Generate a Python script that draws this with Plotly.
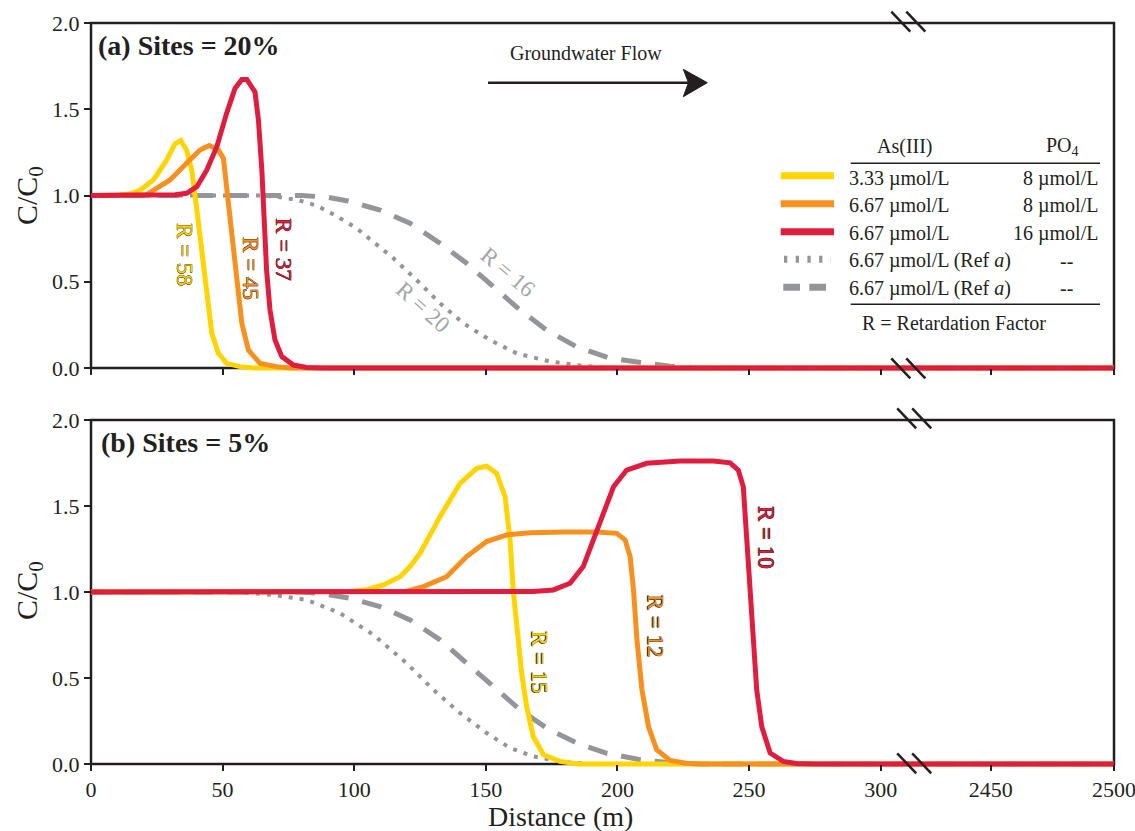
import plotly.graph_objects as go

# ---------------- data ----------------
# Panel (a): Sites = 20 %
a_yellow_x = [0, 10, 15, 18.6, 23.7, 28.8, 31.9, 34.1, 36.3, 38.3, 39.9, 41.4, 42.9, 44.2, 45.9, 48.4, 51.5, 56.6, 62, 320]
a_yellow_y = [1.0, 1.0, 1.01, 1.03, 1.09, 1.206, 1.30, 1.318, 1.264, 1.148, 0.955, 0.761, 0.568, 0.375, 0.201, 0.085, 0.027, 0.008, 0.0, 0.0]

a_orange_x = [0, 15, 21, 23.7, 30, 36.3, 41.4, 44.9, 48.4, 50.3, 51.5, 52.8, 54.3, 55.6, 57.3, 59.8, 64.2, 70.5, 76, 320]
a_orange_y = [1.0, 1.0, 1.005, 1.03, 1.09, 1.187, 1.264, 1.29, 1.264, 1.215, 1.05, 0.858, 0.665, 0.471, 0.259, 0.104, 0.027, 0.008, 0.0, 0.0]

a_red_x = [0, 25, 32, 36.3, 40.2, 44.0, 47.8, 51.5, 54.7, 57.3, 59.2, 62.3, 63.6, 64.9, 65.7, 66.7, 68.0, 69.9, 72.5, 76.9, 82, 88, 320]
a_red_y = [1.0, 1.0, 1.005, 1.013, 1.051, 1.148, 1.283, 1.476, 1.62, 1.673, 1.673, 1.60, 1.438, 1.148, 0.858, 0.568, 0.336, 0.162, 0.066, 0.017, 0.003, 0.0, 0.0]

a_dot_x = [0, 65, 72, 79, 86, 93.3, 100.9, 108.5, 114.9, 123.7, 132.6, 141.5, 151.6, 161.7, 174.4, 187, 200, 320]
a_dot_y = [1.0, 1.0, 0.99, 0.972, 0.94, 0.88, 0.81, 0.713, 0.636, 0.51, 0.375, 0.259, 0.162, 0.085, 0.037, 0.012, 0.0, 0.0]

a_dash_x = [0, 80, 90, 97.1, 109.8, 121.2, 132.6, 142.7, 152.9, 163, 173.1, 184.5, 197.2, 209.8, 220, 232, 320]
a_dash_y = [1.0, 1.0, 0.99, 0.97, 0.916, 0.839, 0.723, 0.607, 0.471, 0.336, 0.22, 0.123, 0.056, 0.027, 0.01, 0.0, 0.0]

# Panel (b): Sites = 5 %
b_yellow_x = [0, 90, 98.4, 105, 111.1, 117.4, 121.2, 125, 132.6, 140.2, 146.5, 150.3, 154.1, 157.3, 159.2, 160.4, 161.7, 163.6, 165.5, 168, 171.9, 178.2, 185, 320]
b_yellow_y = [1.0, 1.0, 1.003, 1.015, 1.041, 1.089, 1.148, 1.225, 1.438, 1.632, 1.719, 1.732, 1.69, 1.554, 1.303, 1.012, 0.819, 0.528, 0.334, 0.16, 0.054, 0.015, 0.0, 0.0]

b_orange_x = [0, 110, 120, 126.3, 135.1, 142.7, 150.3, 157.9, 166.8, 179.5, 192.1, 199.7, 202.9, 204.8, 206.1, 207.4, 209.3, 211.8, 214.9, 220, 226, 232, 320]
b_orange_y = [1.0, 1.0, 1.005, 1.031, 1.089, 1.206, 1.293, 1.332, 1.345, 1.349, 1.349, 1.341, 1.303, 1.206, 1.012, 0.722, 0.431, 0.218, 0.083, 0.021, 0.005, 0.0, 0.0]

b_red_x = [0, 160, 168, 175.6, 182, 187, 190.8, 194.6, 198.5, 203.5, 211.1, 223.8, 236.4, 242.8, 245.9, 247.8, 249.1, 250.4, 251.6, 252.9, 254.8, 258, 263, 268, 275, 320]
b_red_y = [1.0, 1.0, 1.003, 1.012, 1.051, 1.148, 1.303, 1.458, 1.612, 1.709, 1.748, 1.761, 1.761, 1.751, 1.709, 1.612, 1.303, 1.012, 0.722, 0.431, 0.218, 0.064, 0.015, 0.003, 0.0, 0.0]

b_dot_x = [0, 55, 69.3, 82, 94.6, 107.3, 119.9, 130.1, 140.2, 150.3, 159.2, 168, 178, 190, 320]
b_dot_y = [1.0, 1.0, 0.983, 0.954, 0.877, 0.751, 0.586, 0.431, 0.296, 0.18, 0.093, 0.044, 0.015, 0.0, 0.0]

b_dash_x = [0, 80, 88, 98.4, 109.8, 121.2, 132.6, 142.7, 152.9, 163, 173.1, 184.5, 196, 208.6, 220, 230, 320]
b_dash_y = [1.0, 1.0, 0.99, 0.964, 0.915, 0.838, 0.722, 0.586, 0.451, 0.315, 0.209, 0.122, 0.062, 0.025, 0.008, 0.0, 0.0]

# far field (beyond the axis break): every curve is at zero
far_x = [2400, 2510]
far_y = [0.0, 0.0]

y_ticks = [0.0, 0.5, 1.0, 1.5, 2.0]
x_ticks_left = [0, 50, 100, 150, 200, 250, 300]
x_ticks_right = [2450, 2500]

legend_asiii = ["3.33 µmol/L", "6.67 µmol/L", "6.67 µmol/L", "6.67 µmol/L (Ref <i>a</i>)", "6.67 µmol/L (Ref <i>a</i>)"]
legend_po4 = ["8 µmol/L", "8 µmol/L", "16 µmol/L", "--", "--"]

# ---------------- styling ----------------
YELLOW = "#FFD400"
ORANGE = "#F7901E"
RED = "#DF1D3F"
GREY = "#939598"
GREY_TXT = "#A3A5A8"
INK = "#231F20"
FONT = "Liberation Serif"

W, H = 1135, 831
L_PX, R_PX, T_PX, B_PX = 91, 1114, 23, 768


def px(x):
    return (x - L_PX) / (R_PX - L_PX)


def py(y):
    return (B_PX - y) / (B_PX - T_PX)


BREAK_PX = 911
PX_PER_M = (880.7 - 91) / 300.0
RIGHT_PX_PER_M = (1114 - 990.7) / 50.0
left_max = (BREAK_PX - L_PX) / PX_PER_M
right_min = 2450 - (990.7 - BREAK_PX) / RIGHT_PX_PER_M
right_max = 2500.02

YMIN = -0.02
top_y2, top_y0 = 23, 368
bot_y2, bot_y0 = 420, 764
top_dom = [py(top_y0 + (-YMIN) * (top_y0 - top_y2) / 2.0), py(top_y2)]
bot_dom = [max(0, py(bot_y0 + (-YMIN) * (bot_y0 - bot_y2) / 2.0)), py(bot_y2)]

fig = go.Figure()


def add(x, y, xa, ya, color, width, dash="solid"):
    fig.add_trace(go.Scatter(x=x, y=y, xaxis=xa, yaxis=ya, mode="lines",
                             line=dict(color=color, width=width, dash=dash),
                             showlegend=False, hoverinfo="skip"))


DOT = "4px,7px"
DASH = "20px,14px"
panels = [
    ("x", "x2", "y", [(a_dot_x, a_dot_y, GREY, 4, DOT), (a_dash_x, a_dash_y, GREY, 5, DASH),
                      (a_yellow_x, a_yellow_y, YELLOW, 5, "solid"), (a_orange_x, a_orange_y, ORANGE, 5, "solid"),
                      (a_red_x, a_red_y, RED, 5, "solid")]),
    ("x3", "x4", "y2", [(b_dot_x, b_dot_y, GREY, 4, DOT), (b_dash_x, b_dash_y, GREY, 5, DASH),
                        (b_yellow_x, b_yellow_y, YELLOW, 5, "solid"), (b_orange_x, b_orange_y, ORANGE, 5, "solid"),
                        (b_red_x, b_red_y, RED, 5, "solid")]),
]
for xl, xr, ya, series in panels:
    for sx, sy, c, w, d in series:
        add(sx, sy, xl, ya, c, w, d)
        add(far_x, far_y, xr, ya, c, w, d)

tickfont = dict(family=FONT, size=22, color=INK)
common_x = dict(showgrid=False, zeroline=False, showline=False, ticks="outside",
                ticklen=6, tickwidth=1.5, tickcolor=INK, tickfont=tickfont,
                anchor="free", automargin=False, fixedrange=True,
                ticklabeloverflow="allow")
common_y = dict(showgrid=False, zeroline=False, showline=False, ticks="outside",
                ticklen=6, tickwidth=2, tickcolor=INK, tickfont=tickfont,
                range=[YMIN, 2.0], tickvals=y_ticks,
                ticktext=[f"{v:.1f}" for v in y_ticks], automargin=False)

fig.update_layout(
    width=W, height=H,
    margin=dict(l=L_PX, r=W - R_PX, t=T_PX, b=H - B_PX),
    paper_bgcolor="white", plot_bgcolor="white",
    font=dict(family=FONT, color=INK),
    xaxis=dict(common_x, domain=[0, px(BREAK_PX)], range=[0, left_max],
               tickvals=x_ticks_left, showticklabels=False, position=py(top_y0)),
    xaxis2=dict(common_x, domain=[px(BREAK_PX), 1], range=[right_min, right_max],
                tickvals=x_ticks_right, showticklabels=False, position=py(top_y0)),
    xaxis3=dict(common_x, domain=[0, px(BREAK_PX)], range=[0, left_max],
                tickvals=x_ticks_left, position=py(bot_y0)),
    xaxis4=dict(common_x, domain=[px(BREAK_PX), 1], range=[right_min, right_max],
                tickvals=x_ticks_right, position=py(bot_y0)),
    yaxis=dict(common_y, domain=top_dom, anchor="x"),
    yaxis2=dict(common_y, domain=bot_dom, anchor="x3"),
)

shapes = []
# panel frames
for y2p, y0p in [(top_y2, top_y0), (bot_y2, bot_y0)]:
    shapes.append(dict(type="rect", xref="paper", yref="paper", x0=px(L_PX), x1=px(R_PX),
                       y0=py(y0p), y1=py(y2p), line=dict(color=INK, width=2.5), layer="below"))
# axis break marks
for cx, ys in [(908.3, [top_y2 - 1.3, top_y0 + 0.3]), (914.2, [bot_y2 - 1.7, bot_y0 - 0.7])]:
    for cy in ys:
        for off in (-7.5, 7.5):
            shapes.append(dict(type="line", xref="paper", yref="paper",
                               x0=px(cx + off - 9.5), y0=py(cy - 10),
                               x1=px(cx + off + 9.5), y1=py(cy + 10),
                               line=dict(color=INK, width=2.5), layer="above"))
# groundwater flow arrow
shapes.append(dict(type="line", xref="paper", yref="paper", x0=px(488), x1=px(692),
                   y0=py(82.7), y1=py(82.7), line=dict(color=INK, width=2.5)))
head = [(707.3, 82.7), (683.3, 69.3), (688.5, 82.7), (683.3, 96.7)]
path = "M " + " L ".join(f"{px(a):.5f},{py(b):.5f}" for a, b in head) + " Z"
shapes.append(dict(type="path", xref="paper", yref="paper", path=path,
                   fillcolor=INK, line=dict(color=INK, width=1)))
# legend table
key_rows = [175.7, 203.7, 231.7, 259.3, 287.3]
key_styles = [(YELLOW, 7, "solid", 780.7, 834), (ORANGE, 7, "solid", 780.7, 834),
              (RED, 7, "solid", 780.7, 834), (GREY, 7, "3.3px,8.4px", 784, 831),
              (GREY, 7, "16.7px,9.3px", 783.3, 826)]
for yk, (c, w, d, xa, xb) in zip(key_rows, key_styles):
    shapes.append(dict(type="line", xref="paper", yref="paper", x0=px(xa), x1=px(xb),
                       y0=py(yk), y1=py(yk), line=dict(color=c, width=w, dash=d)))
for yr in (163.3, 304.3):
    shapes.append(dict(type="line", xref="paper", yref="paper", x0=px(850.7), x1=px(1100),
                       y0=py(yr), y1=py(yr), line=dict(color=INK, width=1.6)))
fig.update_layout(shapes=shapes)

ann = []


def text(x, y, s, size, xanchor="center", angle=0, color=INK, bold=False, xref="paper", yref="paper", shadow=None):
    f = dict(family=FONT, size=size, color=color)
    if bold:
        f["weight"] = "bold"
    if shadow:
        f["shadow"] = shadow
    ann.append(dict(x=x, y=y, xref=xref, yref=yref, text=s, showarrow=False,
                    xanchor=xanchor, yanchor="middle", textangle=angle, font=f))


# panel titles
text(px(96), py(45), "(a) Sites = 20%", 28, xanchor="left", bold=True)
text(px(99), py(442), "(b) Sites = 5%", 28, xanchor="left", bold=True)
# axis titles
text(px(29), py(196), "C/C<sub>0</sub>", 30, angle=-90)
text(px(29), py(591), "C/C<sub>0</sub>", 30, angle=-90)
text(px(560), py(816), "Distance (m)", 28)
# flow label
text(px(586), py(53), "Groundwater Flow", 20)
# legend texts
text(px(905), py(146), "As(III)", 20)
text(px(1062), py(146), "PO<sub>4</sub>", 20)
text_rows = [178.3, 205.5, 233.5, 260.5, 288]
for yk, s1, s2 in zip(text_rows, legend_asiii, legend_po4):
    text(px(847), py(yk), s1, 20, xanchor="left")
    if s2 == "--":
        text(px(1066), py(yk), s2, 20)
    else:
        text(px(1100), py(yk), s2, 20, xanchor="right")
text(px(954), py(323), "R = Retardation Factor", 20)

# retardation factor labels (data coordinates)
OC = "rgba(40,25,15,0.85)"
OUT = f"0.4px 0.4px 0 {OC}, -0.4px -0.4px 0 {OC}, 0.4px -0.4px 0 {OC}, -0.4px 0.4px 0 {OC}"
r_labels = [
    ("x", "y", 35.7, 0.655, "R = 58", YELLOW, 90, OUT),
    ("x", "y", 60.4, 0.574, "R = 45", ORANGE, 90, OUT),
    ("x", "y", 73.3, 0.684, "R = 37", RED, 90, OUT),
    ("x", "y", 126.1, 0.348, "R = 20", GREY_TXT, 42, None),
    ("x", "y", 158.4, 0.551, "R = 16", GREY_TXT, 40, None),
    ("x3", "y2", 170.2, 0.594, "R = 15", YELLOW, 90, OUT),
    ("x3", "y2", 214.3, 0.804, "R = 12", ORANGE, 90, OUT),
    ("x3", "y2", 256.1, 1.32, "R = 10", RED, 90, OUT),
]
for xr, yr, xv, yv, s, c, a, sh in r_labels:
    text(xv, yv, s, 23, angle=a, color=c, xref=xr, yref=yr, shadow=sh)

fig.update_layout(annotations=ann)
fig.write_html("out.html")
